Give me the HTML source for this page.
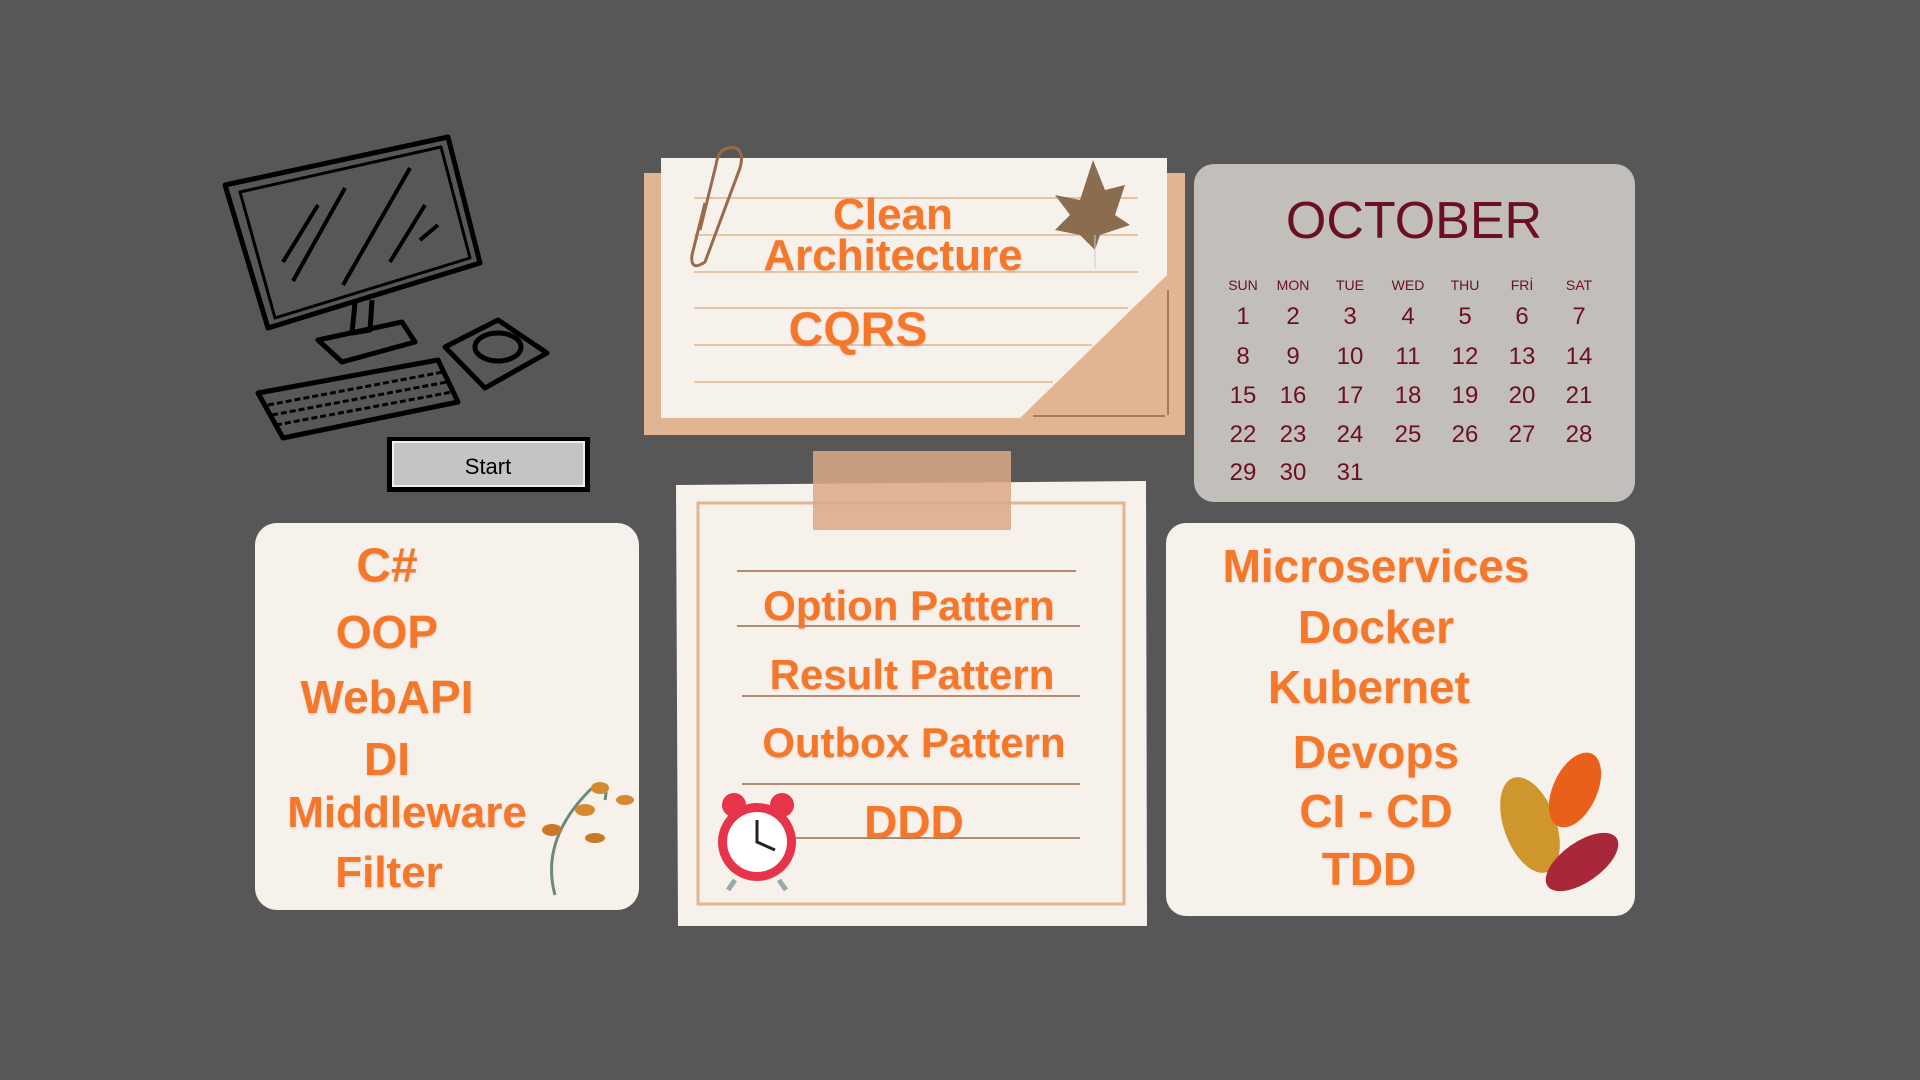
<!DOCTYPE html>
<html><head><meta charset="utf-8"><style>
body{margin:0;width:1920px;height:1080px;background:#575757;overflow:hidden;position:relative;font-family:"Liberation Sans",sans-serif}
.a{position:absolute}
.h{position:absolute;color:#f5782a;font-weight:bold;font-family:"Liberation Sans",sans-serif;white-space:nowrap;transform:translate(-50%,-50%);text-shadow:0 1px 2px rgba(0,0,0,.15)}
.cal{position:absolute;color:#6b0f24;transform:translate(-50%,-50%)}
</style></head><body>
<svg class="a" style="left:0;top:0" width="1920" height="1080">
<g fill="none" stroke="#000" stroke-width="5" stroke-linejoin="round">
<path d="M225,185 L448,137 L480,263 L268,328 Z"/>
<path d="M240,192 L441,147 L470,258 L275,318 Z" stroke-width="3"/>
<path d="M283,262 L318,205 M293,281 L345,188 M343,285 L410,168 M390,262 L425,205 M420,240 L438,225" stroke-width="4"/>
<path d="M355,303 L352,333 L370,330 L372,300"/>
<path d="M318,340 L402,322 L415,342 L342,362 Z"/>
<path d="M258,393 L438,360 L458,402 L283,438 Z"/>
<path d="M268,405 L443,372 M272,415 L447,382 M276,425 L452,392" stroke-width="3" stroke-dasharray="6,3"/>
<path d="M445,347 L498,320 L547,353 L485,388 Z"/>
<ellipse cx="498" cy="347" rx="23" ry="14"/>
</g>
<rect x="387" y="437" width="203" height="55" fill="#000"/>
<rect x="393" y="442" width="191" height="44" fill="#c4c4c4" stroke="#eee" stroke-width="2"/>
<text x="488" y="474" text-anchor="middle" font-size="22" font-family="Liberation Sans">Start</text>
<rect x="644" y="173" width="541" height="262" fill="#e2b592"/>
<path d="M661,158 L1167,158 L1167,275 L1020,418 L661,418 Z" fill="#f6f1eb"/>
<g stroke="#e6c4a6" stroke-width="2">
<line x1="694" y1="198" x2="1138" y2="198"/><line x1="694" y1="235" x2="1138" y2="235"/><line x1="694" y1="272" x2="1138" y2="272"/><line x1="694" y1="308" x2="1128" y2="308"/><line x1="694" y1="345" x2="1092" y2="345"/><line x1="694" y1="382" x2="1053" y2="382"/>
</g>
<path d="M1168,290 L1168,415 M1033,416 L1165,416" stroke="#8a6a50" stroke-width="1.5" fill="none"/>
<path d="M705,203 L692,255 Q690,272 705,262 L740,168 Q746,145 728,148 Q718,150 716,165 L700,230" stroke="#9a6b4a" stroke-width="3" fill="none"/>
<path d="M1093,160 L1105,190 L1125,185 L1115,215 L1130,225 L1100,235 L1095,250 L1080,235 L1055,230 L1070,215 L1055,195 L1080,200 Z" fill="#8a6d4f"/>
<line x1="1095" y1="235" x2="1095" y2="268" stroke="#ccc" stroke-width="1"/>
<rect x="1194" y="164" width="441" height="338" rx="20" fill="#c2beb9"/>
<rect x="255" y="523" width="384" height="387" rx="22" fill="#f6f1eb"/>
<rect x="1166" y="523" width="469" height="393" rx="20" fill="#f6f1eb"/>
<path d="M676,485 L1146,481 L1147,926 L678,926 Z" fill="#f6f1eb"/>
<rect x="698" y="503" width="426" height="401" fill="none" stroke="#e2b592" stroke-width="3"/>
<rect x="813" y="451" width="198" height="79" fill="#d9a986" opacity=".85"/>
<g stroke="#9a6b4a" stroke-width="1.5">
<line x1="737" y1="571" x2="1076" y2="571"/><line x1="737" y1="626" x2="1080" y2="626"/><line x1="742" y1="696" x2="1080" y2="696"/><line x1="742" y1="784" x2="1080" y2="784"/><line x1="742" y1="838" x2="1080" y2="838"/>
</g>
<g>
<circle cx="734" cy="805" r="12" fill="#e6344a"/><circle cx="782" cy="805" r="12" fill="#e6344a"/>
<line x1="735" y1="880" x2="728" y2="890" stroke="#9aa" stroke-width="5"/><line x1="779" y1="880" x2="786" y2="890" stroke="#9aa" stroke-width="5"/>
<circle cx="757" cy="842" r="39" fill="#e6344a"/><circle cx="757" cy="842" r="30" fill="#fff"/>
<path d="M757,820 L757,842 L775,850" stroke="#222" stroke-width="3" fill="none"/>
</g>
<path d="M555,895 Q540,840 590,790 Q610,775 605,800" stroke="#6b8a7a" stroke-width="3" fill="none"/>
<ellipse cx="585" cy="810" rx="10" ry="6" fill="#d58a30"/><ellipse cx="600" cy="788" rx="9" ry="6" fill="#d58a30"/><ellipse cx="552" cy="830" rx="10" ry="6" fill="#c97a28"/><ellipse cx="625" cy="800" rx="9" ry="5" fill="#d58a30"/><ellipse cx="595" cy="838" rx="10" ry="5" fill="#c97a28"/>
<ellipse cx="1530" cy="825" rx="26" ry="50" fill="#d0962e" transform="rotate(-20 1530 825)"/>
<ellipse cx="1575" cy="790" rx="22" ry="40" fill="#e8601a" transform="rotate(25 1575 790)"/>
<ellipse cx="1582" cy="862" rx="20" ry="42" fill="#a8283a" transform="rotate(55 1582 862)"/>
</svg>
<div class="h" style="left:893px;top:215px;font-size:44px">Clean</div>
<div class="h" style="left:893px;top:256px;font-size:44px">Architecture</div>
<div class="h" style="left:858px;top:330px;font-size:48px">CQRS</div>
<div class="cal" style="left:1414px;top:221px;font-size:52px">OCTOBER</div>
<div class="cal" style="left:1243px;top:285px;font-size:14px">SUN</div><div class="cal" style="left:1293px;top:285px;font-size:14px">MON</div><div class="cal" style="left:1350px;top:285px;font-size:14px">TUE</div><div class="cal" style="left:1408px;top:285px;font-size:14px">WED</div><div class="cal" style="left:1465px;top:285px;font-size:14px">THU</div><div class="cal" style="left:1522px;top:285px;font-size:14px">FRİ</div><div class="cal" style="left:1579px;top:285px;font-size:14px">SAT</div>
<div class="h" style="left:387px;top:566px;font-size:48px">C#</div>
<div class="h" style="left:387px;top:632px;font-size:46px">OOP</div>
<div class="h" style="left:387px;top:697px;font-size:46px">WebAPI</div>
<div class="h" style="left:387px;top:759px;font-size:46px">DI</div>
<div class="h" style="left:407px;top:813px;font-size:44px">Middleware</div>
<div class="h" style="left:389px;top:873px;font-size:44px">Filter</div>
<div class="h" style="left:909px;top:606px;font-size:42px">Option Pattern</div>
<div class="h" style="left:912px;top:675px;font-size:42px">Result Pattern</div>
<div class="h" style="left:914px;top:743px;font-size:42px">Outbox Pattern</div>
<div class="h" style="left:914px;top:822px;font-size:46px">DDD</div>
<div class="h" style="left:1376px;top:566px;font-size:46px">Microservices</div>
<div class="h" style="left:1376px;top:627px;font-size:46px">Docker</div>
<div class="h" style="left:1369px;top:687px;font-size:46px">Kubernet</div>
<div class="h" style="left:1376px;top:752px;font-size:46px">Devops</div>
<div class="h" style="left:1376px;top:811px;font-size:46px">CI - CD</div>
<div class="h" style="left:1369px;top:869px;font-size:46px">TDD</div>
<div class="cal" style="left:1243px;top:317px;font-size:24px">1</div><div class="cal" style="left:1293px;top:317px;font-size:24px">2</div><div class="cal" style="left:1350px;top:317px;font-size:24px">3</div><div class="cal" style="left:1408px;top:317px;font-size:24px">4</div><div class="cal" style="left:1465px;top:317px;font-size:24px">5</div><div class="cal" style="left:1522px;top:317px;font-size:24px">6</div><div class="cal" style="left:1579px;top:317px;font-size:24px">7</div>
<div class="cal" style="left:1243px;top:357px;font-size:24px">8</div><div class="cal" style="left:1293px;top:357px;font-size:24px">9</div><div class="cal" style="left:1350px;top:357px;font-size:24px">10</div><div class="cal" style="left:1408px;top:357px;font-size:24px">11</div><div class="cal" style="left:1465px;top:357px;font-size:24px">12</div><div class="cal" style="left:1522px;top:357px;font-size:24px">13</div><div class="cal" style="left:1579px;top:357px;font-size:24px">14</div>
<div class="cal" style="left:1243px;top:396px;font-size:24px">15</div><div class="cal" style="left:1293px;top:396px;font-size:24px">16</div><div class="cal" style="left:1350px;top:396px;font-size:24px">17</div><div class="cal" style="left:1408px;top:396px;font-size:24px">18</div><div class="cal" style="left:1465px;top:396px;font-size:24px">19</div><div class="cal" style="left:1522px;top:396px;font-size:24px">20</div><div class="cal" style="left:1579px;top:396px;font-size:24px">21</div>
<div class="cal" style="left:1243px;top:435px;font-size:24px">22</div><div class="cal" style="left:1293px;top:435px;font-size:24px">23</div><div class="cal" style="left:1350px;top:435px;font-size:24px">24</div><div class="cal" style="left:1408px;top:435px;font-size:24px">25</div><div class="cal" style="left:1465px;top:435px;font-size:24px">26</div><div class="cal" style="left:1522px;top:435px;font-size:24px">27</div><div class="cal" style="left:1579px;top:435px;font-size:24px">28</div>
<div class="cal" style="left:1243px;top:473px;font-size:24px">29</div><div class="cal" style="left:1293px;top:473px;font-size:24px">30</div><div class="cal" style="left:1350px;top:473px;font-size:24px">31</div>
</body></html>
